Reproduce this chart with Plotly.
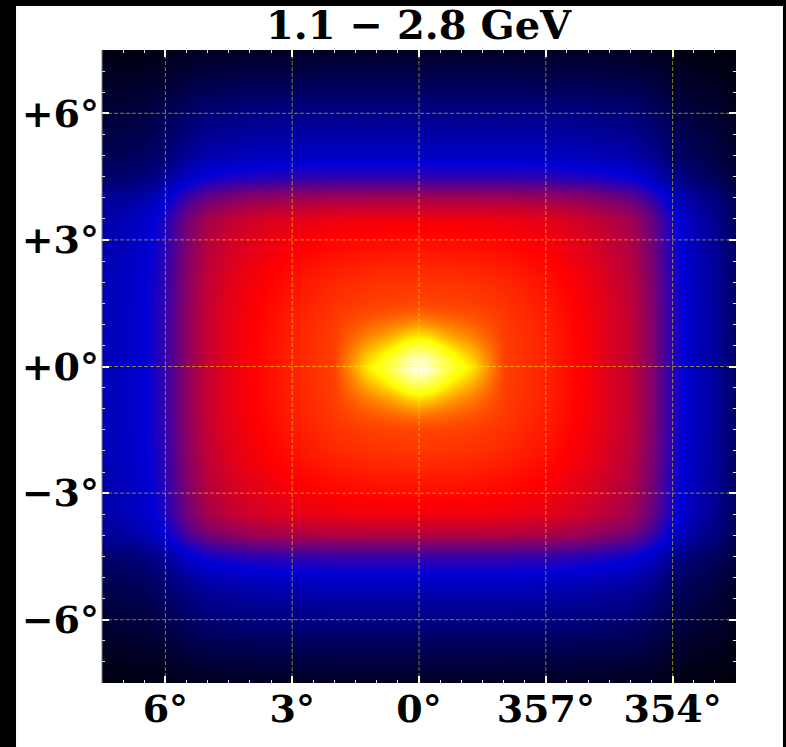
import plotly.graph_objects as go

# Galactic longitude / latitude nodes (deg) of the smoothed model map
lon_nodes = [-7.5, -7.0, -6.5, -6.0, -5.5, -5.0, -4.5, -4.0, -3.5, -3.0, -2.5, -2.0,
             -1.75, -1.5, -1.25, -1.0, -0.75, -0.5, -0.25, 0.0, 0.25, 0.5, 0.75, 1.0,
             1.25, 1.5, 1.75, 2.0, 2.5, 3.0, 3.5, 4.0, 4.5, 5.0, 5.5, 6.0, 6.5, 7.0, 7.5]
lat_nodes = [-7.5, -7.0, -6.5, -6.0, -5.5, -5.0, -4.5, -4.0, -3.5, -3.0, -2.5, -2.0,
             -1.5, -1.25, -1.0, -0.75, -0.5, -0.25, 0.0, 0.25, 0.5, 0.75, 1.0, 1.25,
             1.5, 2.0, 2.5, 3.0, 3.5, 4.0, 4.5, 5.0, 5.5, 6.0, 6.5, 7.0, 7.5]

# extended (box-like) emission: level along b = 0 and relative fall-off with latitude
# (colour-scale units, 0 = black ... 1 = white)
box_lon = [0.117, 0.18, 0.22, 0.285, 0.38, 0.44, 0.46, 0.48, 0.492, 0.502, 0.507, 0.51,
           0.51, 0.51, 0.51, 0.51, 0.51, 0.51, 0.51, 0.51, 0.51, 0.51, 0.51, 0.51,
           0.51, 0.51, 0.51, 0.51, 0.507, 0.502, 0.495, 0.485, 0.47, 0.445, 0.39, 0.30,
           0.245, 0.225, 0.21]
box_lat = [0.08, 0.15, 0.22, 0.30, 0.37, 0.46, 0.60, 0.82, 0.93, 0.955, 0.975, 0.99,
           0.995, 1.0, 1.0, 1.0, 1.0, 1.0, 1.0, 1.0, 1.0, 1.0, 1.0, 1.0,
           0.995, 0.99, 0.975, 0.955, 0.93, 0.80, 0.58, 0.45, 0.38, 0.31, 0.23, 0.16, 0.09]

# broad central brightening (orange glow)
glow_lon = [0.0, 0.0, 0.0, 0.0, 0.0, 0.0, 0.005, 0.012, 0.02, 0.03, 0.04, 0.052,
            0.057, 0.062, 0.066, 0.07, 0.072, 0.074, 0.075, 0.075, 0.075, 0.074, 0.072, 0.07,
            0.066, 0.062, 0.057, 0.052, 0.04, 0.03, 0.02, 0.012, 0.005, 0.0, 0.0, 0.0,
            0.0, 0.0, 0.0]
glow_lat = [0.0, 0.0, 0.0, 0.0, 0.0, 0.0, 0.0, 0.05, 0.15, 0.30, 0.45, 0.62,
            0.78, 0.84, 0.90, 0.94, 0.97, 0.99, 1.0, 0.99, 0.97, 0.94, 0.90, 0.84,
            0.78, 0.62, 0.45, 0.30, 0.15, 0.05, 0.0, 0.0, 0.0, 0.0, 0.0, 0.0, 0.0]

# central point source: excess along b = 0 and its relative latitude profile
core_lon = [-2.0, -1.75, -1.5, -1.25, -1.0, -0.75, -0.5, -0.25, 0.0,
            0.25, 0.5, 0.75, 1.0, 1.25, 1.5, 1.75, 2.0]
core_row = [0.0, 0.05, 0.10, 0.15, 0.19, 0.235, 0.30, 0.37, 0.415,
            0.37, 0.30, 0.235, 0.19, 0.15, 0.10, 0.05, 0.0]
core_lat = [-1.5, -1.25, -1.0, -0.75, -0.5, -0.25, 0.0, 0.25, 0.5, 0.75, 1.0, 1.25, 1.5]
core_col = [0.0, 0.06, 0.17, 0.34, 0.55, 0.80, 1.0, 0.80, 0.55, 0.34, 0.17, 0.06, 0.0]

# axis ticks
x_tickvals = [6, 3, 0, -3, -6]
x_ticktext = ["6°", "3°", "0°", "357°", "354°"]
y_tickvals = [6, 3, 0, -3, -6]
y_ticktext = ["+6°", "+3°", "+0°", "−3°", "−6°"]

title_text = "1.1 − 2.8 GeV"

# assemble the map table
row_of = dict(zip(core_lon, core_row))
col_of = dict(zip(core_lat, core_col))
z = []
for b, qb, gb in zip(lat_nodes, box_lat, glow_lat):
    line = []
    for l, pl, gl in zip(lon_nodes, box_lon, glow_lon):
        v = pl * qb + gl * gb
        if l in row_of and b in col_of:
            v += row_of[l] * col_of[b]
        line.append(v)
    z.append(line)

# DS9-style "b" colour map: black - blue - red - yellow - white
cmap_b = [[0.0, "#000000"], [0.25, "rgb(0,0,215)"], [0.5, "#ff0000"],
          [0.75, "#ffff00"], [1.0, "#ffffff"]]

fig = go.Figure(go.Heatmap(
    x=lon_nodes, y=lat_nodes, z=z,
    colorscale=cmap_b, zmin=0, zmax=1, zsmooth="best",
    showscale=False, hoverinfo="skip",
))

font_tick = dict(family="DejaVu Serif", size=38, color="black", weight="bold")

common_axis = dict(
    showgrid=False, zeroline=False, showline=False,
    ticks="inside", ticklen=7, tickwidth=1.5, tickcolor="white",
    mirror="ticks", tickmode="array",
    minor=dict(dtick=0.5, ticks="inside", ticklen=3, tickwidth=1,
               tickcolor="#e6e6f0", showgrid=False),
    tickfont=font_tick, layer="above traces",
)

fig.update_xaxes(range=[7.5, -7.5], tickvals=x_tickvals, ticktext=x_ticktext,
                 **common_axis)
fig.update_yaxes(range=[-7.5, 7.5], tickvals=y_tickvals, ticktext=y_ticktext,
                 ticklabelstandoff=2, **common_axis)

shapes = []
# dashed coordinate grid drawn over the map
grid_line = dict(color="rgba(255,255,0,0.5)", width=1, dash="4px,2px")
for xv in x_tickvals:
    shapes.append(dict(type="line", xref="x", yref="paper", x0=xv, x1=xv, y0=0, y1=1,
                       line=grid_line, layer="above"))
for yv in y_tickvals:
    shapes.append(dict(type="line", xref="paper", yref="y", x0=0, x1=1, y0=yv, y1=yv,
                       line=grid_line, layer="above"))
# left frame edge
shapes.append(dict(type="line", xref="paper", yref="paper", x0=0, x1=0, y0=0, y1=1,
                   line=dict(color="#808080", width=1), layer="above"))
# dark border strips around the figure
for x0, x1, y0, y1 in [(-0.1609, -0.1356, -0.1011, 1.079),
                       (-0.1609, 1.0789, 1.0695, 1.079),
                       (1.0741, 1.0789, -0.1011, 1.079)]:
    shapes.append(dict(type="rect", xref="paper", yref="paper", x0=x0, x1=x1,
                       y0=y0, y1=y1, fillcolor="black", line=dict(width=0),
                       layer="above"))

fig.update_layout(
    width=786, height=747,
    margin=dict(l=102, r=50, t=50, b=64),
    paper_bgcolor="white", plot_bgcolor="black",
    shapes=shapes,
    annotations=[dict(text=title_text, xref="paper", yref="paper", x=0.5, y=1.0,
                      xanchor="center", yanchor="bottom", showarrow=False,
                      font=dict(family="DejaVu Serif", size=40, color="black",
                                weight="bold"))],
)

fig.write_html("out.html")
